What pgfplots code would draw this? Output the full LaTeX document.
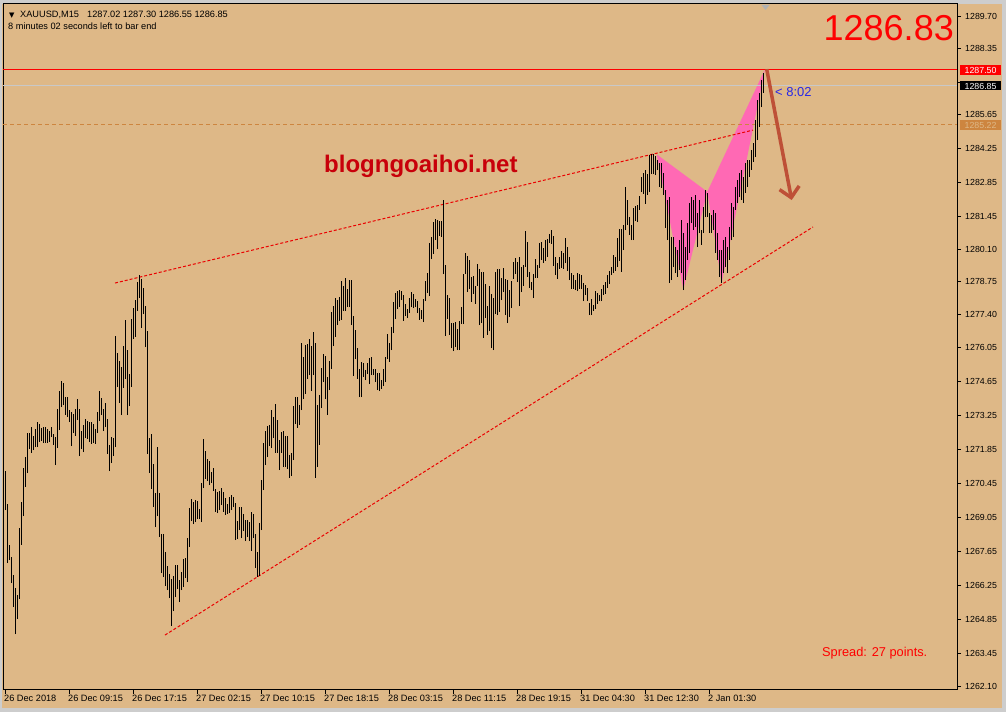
\documentclass[border=0pt]{standalone}
\usepackage{fontspec}
\setmainfont{Liberation Sans}
\newfontfamily\symfont{DejaVu Sans}
\usepackage{pgfplots}
\pgfplotsset{compat=1.18}
\usepackage{pgfplotstable}
\usetikzlibrary{arrows.meta}

\definecolor{chartbg}{RGB}{222,184,135}
\definecolor{winframe}{RGB}{205,205,205}
\definecolor{pattern}{RGB}{255,105,180}
\definecolor{trend}{RGB}{235,0,0}
\definecolor{pricered}{RGB}{255,0,0}
\definecolor{levelline}{RGB}{205,133,63}
\definecolor{bidline}{RGB}{200,200,200}
\definecolor{arrowcol}{RGB}{190,80,55}
\definecolor{timerblue}{RGB}{40,40,230}
\definecolor{brand}{RGB}{200,0,10}

% XAUUSD M15 bars: index, low, high
\pgfplotstableread{
i lo hi
0 1269.35 1270.95
1 1267.16 1269.60
2 1267.29 1267.91
3 1266.34 1267.41
4 1265.35 1266.67
5 1264.24 1266.13
6 1264.86 1265.85
7 1265.68 1268.61
8 1267.91 1269.68
9 1269.10 1271.08
10 1270.30 1271.53
11 1270.87 1272.52
12 1271.86 1272.52
13 1271.70 1272.77
14 1271.82 1272.40
15 1271.94 1272.69
16 1271.94 1272.97
17 1272.15 1272.89
18 1272.19 1272.73
19 1272.11 1272.77
20 1272.11 1272.77
21 1272.11 1272.69
22 1272.15 1272.60
23 1272.36 1272.77
24 1272.03 1272.48
25 1271.20 1272.36
26 1271.90 1273.51
27 1272.64 1274.25
28 1273.59 1274.66
29 1273.67 1274.58
30 1273.26 1274.00
31 1273.18 1274.00
32 1272.97 1273.47
33 1271.98 1273.39
34 1272.52 1273.30
35 1272.40 1273.51
36 1273.06 1273.92
37 1271.57 1273.51
38 1271.86 1272.60
39 1271.74 1272.85
40 1272.31 1273.10
41 1272.27 1273.01
42 1272.15 1272.97
43 1272.07 1272.97
44 1272.11 1272.89
45 1272.07 1272.69
46 1272.52 1273.39
47 1273.01 1274.25
48 1273.26 1273.96
49 1272.60 1273.51
50 1272.77 1273.76
51 1271.66 1273.10
52 1270.95 1272.03
53 1271.28 1272.36
54 1271.57 1272.31
55 1271.94 1276.52
56 1274.42 1275.82
57 1273.76 1275.49
58 1273.26 1275.24
59 1274.37 1276.10
60 1274.75 1277.18
61 1273.26 1275.94
62 1273.63 1274.95
63 1274.42 1277.22
64 1276.39 1277.67
65 1276.48 1278.00
66 1277.55 1278.74
67 1278.08 1279.03
68 1276.85 1278.87
69 1277.42 1278.49
70 1276.06 1277.75
71 1271.66 1276.72
72 1270.87 1272.31
73 1270.21 1272.48
74 1269.47 1271.24
75 1268.65 1270.05
76 1269.10 1271.94
77 1268.24 1270.05
78 1266.75 1268.36
79 1266.59 1268.36
80 1266.22 1267.62
81 1266.05 1267.04
82 1265.72 1266.71
83 1264.57 1266.51
84 1265.19 1266.63
85 1265.76 1267.08
86 1266.09 1267.08
87 1265.56 1266.46
88 1266.05 1266.79
89 1266.18 1267.33
90 1266.55 1267.37
91 1266.38 1268.19
92 1267.82 1269.43
93 1268.89 1269.80
94 1268.77 1269.68
95 1268.85 1269.76
96 1268.98 1269.72
97 1268.98 1269.39
98 1268.85 1270.46
99 1270.25 1272.27
100 1270.63 1271.78
101 1270.54 1271.45
102 1270.38 1271.37
103 1270.46 1270.91
104 1270.13 1271.08
105 1269.27 1270.21
106 1269.22 1270.09
107 1269.35 1270.13
108 1269.55 1270.25
109 1269.27 1270.09
110 1269.14 1269.84
111 1269.18 1269.60
112 1269.22 1269.88
113 1269.35 1269.96
114 1269.47 1269.88
115 1268.11 1269.64
116 1268.15 1268.89
117 1268.52 1269.47
118 1268.19 1269.47
119 1268.48 1269.18
120 1268.07 1268.94
121 1268.24 1268.94
122 1268.07 1268.85
123 1267.66 1269.27
124 1268.19 1269.18
125 1266.96 1268.36
126 1266.59 1267.62
127 1266.63 1268.81
128 1268.52 1270.58
129 1270.17 1272.11
130 1271.20 1272.60
131 1271.53 1272.81
132 1271.98 1272.85
133 1271.90 1273.47
134 1272.31 1273.18
135 1271.70 1273.72
136 1271.70 1273.06
137 1270.99 1272.23
138 1271.70 1272.56
139 1271.12 1272.60
140 1271.12 1272.40
141 1271.03 1272.40
142 1270.67 1271.62
143 1270.75 1271.70
144 1271.41 1273.63
145 1272.89 1274.00
146 1272.73 1274.00
147 1272.85 1273.67
148 1273.47 1276.23
149 1273.92 1275.65
150 1274.13 1276.15
151 1274.75 1276.19
152 1274.91 1276.39
153 1274.25 1276.10
154 1274.91 1276.68
155 1270.67 1276.23
156 1271.12 1273.67
157 1272.03 1274.09
158 1273.55 1275.20
159 1274.62 1275.78
160 1273.92 1275.69
161 1273.26 1274.83
162 1274.29 1275.49
163 1275.16 1277.51
164 1276.10 1277.75
165 1276.48 1278.08
166 1276.97 1278.00
167 1277.14 1278.12
168 1277.18 1278.78
169 1277.55 1278.58
170 1277.55 1278.91
171 1277.71 1278.45
172 1277.71 1278.82
173 1276.97 1278.82
174 1274.87 1277.34
175 1275.57 1276.76
176 1274.75 1276.02
177 1274.00 1275.16
178 1274.00 1275.45
179 1274.83 1275.40
180 1274.70 1275.12
181 1274.95 1275.40
182 1274.54 1275.61
183 1274.91 1275.65
184 1274.91 1275.16
185 1274.62 1275.16
186 1274.29 1274.99
187 1274.25 1274.99
188 1274.33 1274.70
189 1274.46 1275.16
190 1274.62 1275.65
191 1275.57 1276.60
192 1275.45 1276.23
193 1275.94 1276.89
194 1276.64 1277.92
195 1277.22 1278.29
196 1277.63 1278.37
197 1277.71 1278.41
198 1278.00 1278.37
199 1277.14 1278.21
200 1277.34 1277.84
201 1277.26 1277.63
202 1277.46 1278.08
203 1277.71 1278.33
204 1277.67 1278.25
205 1277.71 1278.04
206 1277.46 1277.96
207 1277.18 1277.67
208 1277.22 1277.59
209 1277.09 1278.04
210 1277.96 1278.78
211 1278.29 1279.11
212 1278.16 1280.35
213 1279.69 1280.60
214 1279.90 1281.21
215 1280.47 1281.34
216 1280.10 1281.30
217 1280.64 1281.25
218 1280.60 1281.25
219 1279.07 1282.12
220 1276.52 1279.44
221 1277.22 1278.21
222 1276.56 1278.08
223 1276.02 1277.05
224 1275.90 1277.05
225 1276.06 1277.09
226 1275.94 1276.81
227 1275.94 1277.14
228 1277.01 1277.71
229 1277.01 1279.07
230 1279.07 1279.94
231 1278.33 1279.81
232 1278.45 1279.65
233 1277.92 1278.95
234 1278.25 1278.99
235 1277.84 1278.58
236 1278.58 1279.48
237 1276.97 1279.28
238 1277.05 1279.16
239 1276.44 1279.16
240 1277.26 1278.66
241 1276.56 1277.75
242 1276.72 1278.58
243 1276.02 1278.25
244 1275.94 1278.08
245 1277.42 1279.16
246 1277.38 1279.28
247 1277.51 1279.28
248 1278.00 1278.91
249 1278.33 1279.32
250 1277.38 1278.87
251 1277.05 1278.82
252 1277.30 1278.41
253 1277.67 1278.78
254 1278.87 1279.57
255 1279.07 1279.73
256 1278.74 1279.57
257 1277.75 1279.77
258 1278.33 1279.36
259 1278.58 1279.44
260 1279.36 1280.84
261 1278.95 1280.39
262 1278.49 1279.16
263 1278.41 1278.74
264 1278.08 1279.07
265 1278.91 1279.69
266 1278.91 1279.44
267 1279.32 1280.35
268 1279.65 1280.39
269 1279.52 1280.14
270 1279.61 1280.47
271 1279.77 1280.51
272 1280.35 1280.72
273 1280.31 1280.88
274 1279.40 1280.64
275 1279.03 1279.77
276 1278.87 1279.52
277 1279.28 1279.77
278 1279.32 1280.02
279 1279.28 1279.94
280 1279.52 1280.55
281 1279.20 1280.18
282 1278.82 1279.77
283 1278.45 1279.11
284 1278.45 1279.03
285 1278.41 1278.82
286 1278.37 1279.11
287 1278.45 1279.07
288 1278.45 1279.03
289 1277.96 1278.70
290 1278.21 1278.62
291 1277.96 1278.49
292 1277.38 1277.88
293 1277.38 1278.04
294 1277.55 1277.79
295 1277.63 1278.37
296 1277.84 1278.29
297 1277.96 1278.21
298 1277.96 1278.45
299 1278.21 1278.62
300 1278.25 1278.74
301 1278.49 1279.03
302 1278.66 1279.20
303 1279.03 1279.36
304 1279.11 1279.85
305 1279.20 1279.77
306 1279.36 1280.55
307 1279.61 1280.93
308 1279.16 1280.93
309 1280.06 1281.09
310 1280.88 1282.66
311 1281.09 1282.12
312 1280.68 1281.42
313 1280.47 1281.09
314 1280.47 1281.79
315 1281.25 1281.87
316 1281.21 1281.91
317 1281.71 1282.28
318 1282.45 1283.07
319 1282.37 1283.23
320 1281.96 1283.36
321 1282.33 1283.19
322 1282.45 1283.97
323 1283.19 1284.01
324 1283.19 1284.01
325 1283.15 1283.93
326 1283.36 1283.77
327 1282.66 1283.64
328 1282.62 1283.64
329 1282.33 1283.23
330 1280.97 1282.53
331 1280.47 1282.12
332 1278.70 1282.24
333 1278.82 1280.60
334 1279.36 1280.60
335 1279.11 1280.18
336 1278.95 1280.06
337 1279.24 1280.47
338 1279.11 1281.30
339 1278.41 1280.76
340 1278.82 1280.18
341 1279.65 1281.17
342 1279.94 1282.00
343 1281.17 1282.24
344 1280.88 1282.12
345 1281.01 1282.33
346 1280.18 1281.58
347 1280.76 1282.12
348 1280.27 1280.88
349 1280.76 1281.83
350 1281.42 1282.53
351 1281.42 1282.41
352 1280.76 1281.58
353 1280.76 1281.50
354 1280.88 1281.71
355 1279.94 1281.58
356 1279.65 1280.76
357 1278.95 1280.06
358 1278.70 1280.06
359 1279.11 1280.47
360 1279.36 1280.60
361 1279.11 1280.18
362 1279.65 1281.01
363 1280.47 1282.00
364 1280.60 1281.83
365 1281.71 1282.66
366 1282.00 1282.95
367 1282.24 1283.23
368 1282.12 1283.36
369 1282.00 1283.07
370 1282.41 1283.64
371 1282.66 1283.77
372 1283.07 1283.77
373 1283.36 1284.18
374 1283.69 1284.47
375 1283.89 1285.42
376 1284.59 1286.24
377 1285.13 1286.53
378 1285.95 1287.06
379 1286.53 1287.35
}\bars

\begin{document}
\begin{tikzpicture}[x=1pt,y=1pt]
% window background and edges
\fill[chartbg] (0,0) rectangle (1006,712);
\fill[winframe] (0,708) rectangle (1006,712);
\fill[winframe] (0,0) rectangle (1006,4);
\fill[winframe] (0,0) rectangle (2,712);
\fill[winframe] (1002,0) rectangle (1006,712);

\begin{axis}[
  at={(3pt,22.5pt)}, anchor=south west,
  scale only axis, width=954pt, height=685.5pt,
  xmin=-1, xmax=476, ymin=1261.957, ymax=1290.195,
  axis line style={black, line width=1pt},
  tick style={black, line width=1pt},
  tick align=outside, major tick length=4pt,
  xtick pos=lower, ytick pos=right,
  xtick={0,32,...,352},
  xticklabels={26 Dec 2018, 26 Dec 09:15, 26 Dec 17:15, 27 Dec 02:15,
    27 Dec 10:15, 27 Dec 18:15, 28 Dec 03:15, 28 Dec 11:15,
    28 Dec 19:15, 31 Dec 04:30, 31 Dec 12:30, 2 Jan 01:30},
  xticklabel style={font=\fontsize{9.2}{10}\selectfont, anchor=north west,
    inner sep=0pt, xshift=-1pt, yshift=-1pt},
  ytick={1289.70,1288.35,1286.95,1285.65,1284.25,1282.85,1281.45,1280.10,
    1278.75,1277.40,1276.05,1274.65,1273.25,1271.85,1270.45,1269.05,
    1267.65,1266.25,1264.85,1263.45,1262.10},
  yticklabels={1289.70,1288.35,,1285.65,1284.25,1282.85,1281.45,1280.10,
    1278.75,1277.40,1276.05,1274.65,1273.25,1271.85,1270.45,1269.05,
    1267.65,1266.25,1264.85,1263.45,1262.10},
  yticklabel style={font=\fontsize{8.8}{10}\selectfont, anchor=west,
    inner sep=0pt, xshift=4pt},
  clip=true,
]
% harmonic pattern X-A-B and B-C-D
\addplot[draw=none, fill=pattern] coordinates
  {(325.85,1284.00) (339.15,1278.44) (351.15,1282.46)} -- cycle;
\addplot[draw=none, fill=pattern] coordinates
  {(351.15,1282.46) (358.35,1278.71) (380,1287.51)} -- cycle;

% price levels
\addplot[color=bidline, solid, line width=1.1pt] coordinates {(-1,1286.85) (476,1286.85)};
\addplot[color=levelline, line width=1pt, dash pattern=on 4pt off 3pt]
  coordinates {(-1,1285.22) (476,1285.22)};

% wedge trend lines
\addplot[color=trend, line width=1pt, dash pattern=on 3pt off 2pt]
  coordinates {(55,1278.70) (374,1285.00)};
\addplot[color=trend, line width=1pt, dash pattern=on 3pt off 2pt]
  coordinates {(80,1264.20) (404,1281.01)};

% high-low bars
\addplot[draw=none, mark=none,
  error bars/.cd, y dir=plus, y explicit, error mark=none,
  error bar style={draw=black, line width=1pt, solid}]
  table[x=i, y=lo, y error expr=\thisrow{hi}-\thisrow{lo}] {\bars};

% stop level at 1287.50
\addplot[color=pricered, solid, line width=1.4pt] coordinates {(-1,1287.50) (476,1287.50)};

% expected move
\draw[arrowcol, line width=3.5pt, -{Straight Barb[length=10pt, width=20pt]}]
  (axis cs:380.85,1287.51) -- (axis cs:393.35,1282.12);
\end{axis}

% price tags on the right scale
\node[fill=pricered, text=white, anchor=west, inner xsep=4.5pt, inner ysep=0pt,
  minimum height=10pt, font=\fontsize{8.8}{10}\selectfont] at (960,641.5) {1287.50};
\node[fill=black, text=white, anchor=west, inner xsep=4.5pt, inner ysep=0pt,
  minimum height=9pt, font=\fontsize{8.8}{10}\selectfont] at (960,626) {1286.85};
\node[fill=levelline, text=chartbg, anchor=west, inner xsep=4.5pt, inner ysep=0pt,
  minimum height=10pt, font=\fontsize{8.8}{10}\selectfont] at (960,587) {1285.22};

% chart header
\node[anchor=base west, inner sep=0pt, font=\symfont\fontsize{7}{8}\selectfont] at (9,694.7) {▼};
\node[anchor=base west, inner sep=0pt, font=\fontsize{9.2}{10}\selectfont] at (20,694.7) {XAUUSD,M15};
\node[anchor=base west, inner sep=0pt, font=\fontsize{9.2}{10}\selectfont] at (87,694.7)
  {1287.02 1287.30 1286.55 1286.85};
\node[anchor=base west, inner sep=0pt, font=\fontsize{9.2}{10}\selectfont] at (8,682.7)
  {8 minutes 02 seconds left to bar end};

% shift marker
\fill[gray!60] (761.5,707) -- (769.5,707) -- (765.5,702) -- cycle;

% large bid display
\node[anchor=base east, inner sep=0pt, text=pricered, font=\fontsize{36}{40}\selectfont] at (954,671.3) {1286.83};

\node[anchor=base west, inner sep=0pt, text=brand, font=\bfseries\fontsize{24}{28}\selectfont] at (324,539.7) {blogngoaihoi.net};

\node[anchor=base west, inner sep=0pt, text=timerblue, font=\fontsize{13}{14}\selectfont] at (775,615.5) {< 8:02};

\node[anchor=base west, inner sep=0pt, text=pricered, font=\fontsize{12.8}{14}\selectfont] at (822,56) {Spread: 27 points.};

\pgfresetboundingbox
\path (0,0) rectangle (1006,712);
\end{tikzpicture}
\end{document}
